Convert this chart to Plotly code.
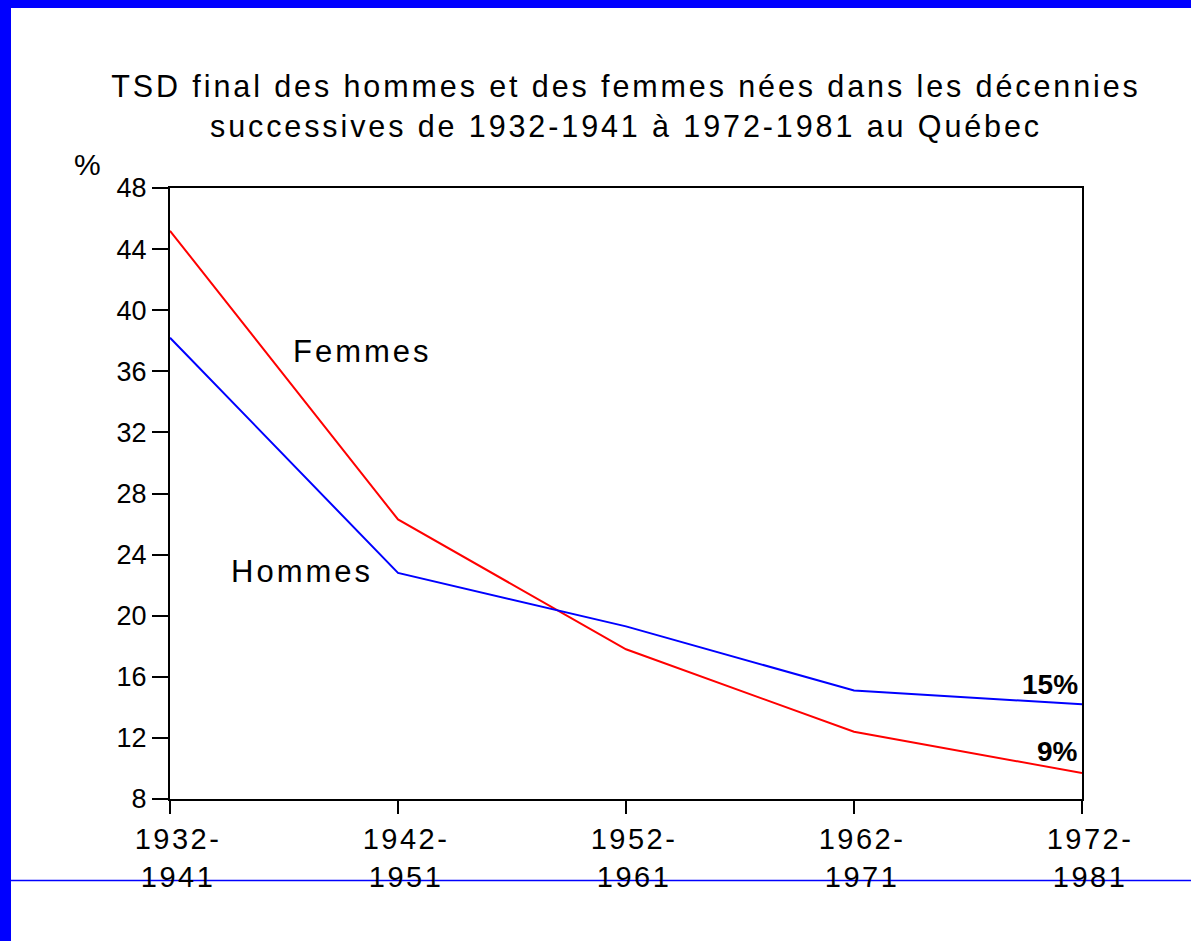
import plotly.graph_objects as go

# Data
cohorts = ["1932-<br>1941", "1942-<br>1951", "1952-<br>1961", "1962-<br>1971", "1972-<br>1981"]
femmes = [45.2, 26.3, 17.8, 12.4, 9.7]
hommes = [38.2, 22.8, 19.3, 15.1, 14.2]
y_ticks = [8, 12, 16, 20, 24, 28, 32, 36, 40, 44, 48]

xpos = list(range(len(cohorts)))
FONT = "Liberation Sans, Arial, sans-serif"

def sp(t, ls="letter-spacing:2.5px"):
    return "<span style='%s'>%s</span>" % (ls, t)

fig = go.Figure()
fig.add_trace(go.Scatter(x=xpos, y=femmes, mode="lines", name="Femmes",
                         line=dict(color="#FF0000", width=2), showlegend=False))
fig.add_trace(go.Scatter(x=xpos, y=hommes, mode="lines", name="Hommes",
                         line=dict(color="#0000FF", width=2), showlegend=False))

fig.update_layout(
    width=1191, height=941,
    margin=dict(l=170, r=109, t=188, b=142),
    paper_bgcolor="white", plot_bgcolor="white",
    font=dict(family=FONT, color="black"),
    title=dict(
        text=sp("TSD final des hommes et des femmes nées dans les décennies", "letter-spacing:2.9px")
             + "<br>" + sp("successives de 1932-1941 à 1972-1981 au Québec", "letter-spacing:2.9px"),
        x=0.5, xref="paper", xanchor="center",
        y=1 - 97 / 941, yref="container", yanchor="middle",
        font=dict(size=30.5, family=FONT, color="black"),
    ),
    xaxis=dict(
        range=[0, 4], tickmode="array", tickvals=xpos,
        ticktext=[sp(c) for c in cohorts],
        showgrid=False, zeroline=False,
        showline=True, linecolor="black", linewidth=2, mirror=True,
        ticks="outside", ticklen=13, tickwidth=2, tickcolor="black",
        tickfont=dict(size=29, family=FONT, color="black"),
        ticklabelshift=8,
    ),
    yaxis=dict(
        range=[8, 48], tickmode="array", tickvals=y_ticks,
        ticktext=[str(v) for v in y_ticks],
        showgrid=False, zeroline=False,
        showline=True, linecolor="black", linewidth=2, mirror=True,
        ticks="outside", ticklen=16, tickwidth=2, tickcolor="black",
        tickfont=dict(size=27, family=FONT, color="black"),
    ),
)

# Annotations
fig.add_annotation(x=0.846, y=37.3, xref="x", yref="y", text=sp("Femmes", "letter-spacing:3px"),
                   xanchor="center", yanchor="middle",
                   showarrow=False, font=dict(size=31, family=FONT, color="black"))
fig.add_annotation(x=0.579, y=22.9, xref="x", yref="y", text=sp("Hommes", "letter-spacing:3px"),
                   xanchor="center", yanchor="middle",
                   showarrow=False, font=dict(size=31, family=FONT, color="black"))
fig.add_annotation(x=4, y=15.5, xref="x", yref="y", text="<b>15%</b>", xanchor="right",
                   yanchor="middle", xshift=-2, showarrow=False,
                   font=dict(size=28, family=FONT, color="black"))
fig.add_annotation(x=4, y=11.1, xref="x", yref="y", text="<b>9%</b>", xanchor="right",
                   yanchor="middle", xshift=-2, showarrow=False,
                   font=dict(size=28, family=FONT, color="black"))
fig.add_annotation(x=(87 - 170) / 912, y=(799 - 165) / 611, xref="paper", yref="paper",
                   xanchor="center", yanchor="middle",
                   text="%", showarrow=False, font=dict(size=30, family=FONT, color="black"))

# Decorative blue frame pieces
def px_x(px):
    return (px - 170) / 912

def px_y(py):
    return (799 - py) / 611

fig.add_shape(type="rect", xref="paper", yref="paper", x0=px_x(0), x1=px_x(11),
              y0=px_y(941), y1=px_y(0), fillcolor="#0000FF", line=dict(width=0))
fig.add_shape(type="rect", xref="paper", yref="paper", x0=px_x(0), x1=px_x(1191),
              y0=px_y(8), y1=px_y(0), fillcolor="#0000FF", line=dict(width=0))
fig.add_shape(type="line", xref="paper", yref="paper", x0=px_x(11), x1=px_x(1191),
              y0=px_y(880.5), y1=px_y(880.5), line=dict(color="#0000FF", width=1.5), layer="below")

fig.write_html("out.html", config={"displayModeBar": False},
               post_script="document.body.style.margin='0';")
